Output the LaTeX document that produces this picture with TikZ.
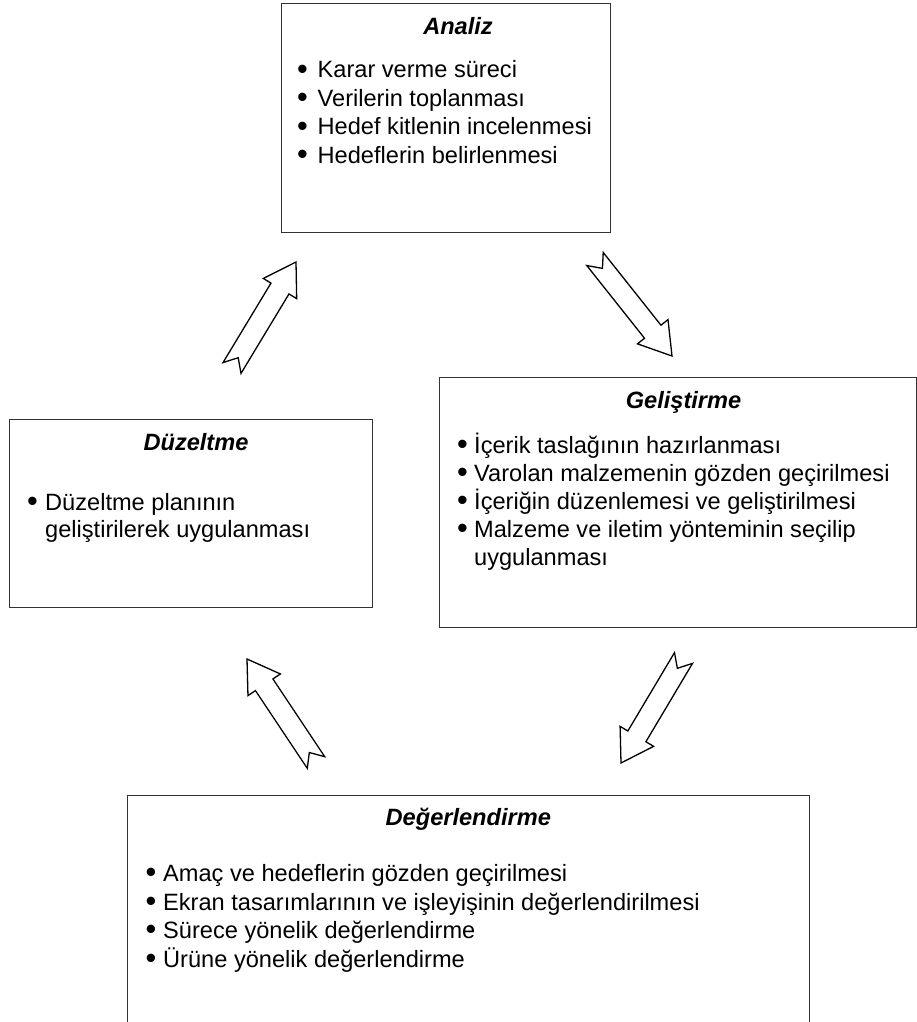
\documentclass[tikz,border=0pt]{standalone}
\usepackage{fontspec}
\setmainfont{Liberation Sans}
\usetikzlibrary{calc}

% hollow block arrow with a notched tail: #1 name prefix, #2 tail coordinate, #3 tip coordinate
\newcommand{\hollowarrow}[3]{%
  \coordinate (#1h) at ($(#3)!31pt!(#2)$);
  \coordinate (#1n) at ($(#2)!12pt!(#3)$);
  \draw[hollow] ($(#2)!10.5pt!90:(#3)$) -- ($(#1h)!10.5pt!90:(#3)$)
    -- ($(#1h)!19.5pt!90:(#3)$) -- (#3) -- ($(#1h)!19.5pt!-90:(#3)$)
    -- ($(#1h)!10.5pt!-90:(#3)$) -- ($(#2)!10.5pt!-90:(#3)$) -- (#1n) -- cycle;
}
% list bullet followed by a hanging indent of width #1
\newcommand{\bul}[1]{\makebox[#1][l]{\raisebox{-1.2pt}{\scalebox{1.3}{\textbullet}}}}

\begin{document}
\begin{tikzpicture}[x=1pt,y=-1pt,
  stagebox/.style={draw=black!80, line width=1.2pt, fill=white, rectangle, inner sep=0pt, anchor=north west},
  title/.style={anchor=base, inner sep=0pt, font=\fontsize{23.6}{28.3}\selectfont\bfseries\itshape},
  item/.style={anchor=base west, inner sep=0pt, font=\fontsize{23.6}{28.3}\selectfont},
  hollow/.style={draw=black, line width=1.3pt, fill=white, line join=miter}]
\useasboundingbox (0,0) rectangle (917,1022);
\clip (0,0) rectangle (917,1022);

% stage boxes
\node[stagebox, minimum width=329pt, minimum height=229pt] (analiz) at (281,3) {};
\node[stagebox, minimum width=363pt, minimum height=188pt] (duzeltme) at (9,419) {};
\node[stagebox, minimum width=477pt, minimum height=250pt] (gelistirme) at (439,377) {};
\node[stagebox, minimum width=682pt, minimum height=260pt] (degerlendirme) at (127,795) {};

% Analiz
\node[title] (analizT) at (458,35) {Analiz};
\node[item] (an1) at (297,78) {\bul{20.5pt}Karar verme süreci};
\node[item] (an2) at (297,106.5) {\bul{20.5pt}Verilerin toplanması};
\node[item] (an3) at (297,135) {\bul{20.5pt}Hedef kitlenin incelenmesi};
\node[item] (an4) at (297,163) {\bul{20.5pt}Hedeflerin belirlenmesi};

% Düzeltme
\node[title] (duzT) at (196,450) {Düzeltme};
\node[item] (dz1) at (27,510) {\bul{18pt}Düzeltme planının};
\node[item] (dz2) at (27,537) {\hspace*{18pt}geliştirilerek uygulanması};

% Geliştirme
\node[title] (gelT) at (683.5,408) {Geliştirme};
\node[item] (gl1) at (457,453.5) {\bul{17pt}İçerik taslağının hazırlanması};
\node[item] (gl2) at (457,481.5) {\bul{17pt}Varolan malzemenin gözden geçirilmesi};
\node[item] (gl3) at (457,509.5) {\bul{17pt}İçeriğin düzenlemesi ve geliştirilmesi};
\node[item] (gl4) at (457,537.5) {\bul{17pt}Malzeme ve iletim yönteminin seçilip};
\node[item] (gl5) at (457,565.5) {\hspace*{17pt}uygulanması};

% Değerlendirme
\node[title] (degT) at (468.3,825) {Değerlendirme};
\node[item] (dg1) at (145.5,881.5) {\bul{17.5pt}Amaç ve hedeflerin gözden geçirilmesi};
\node[item] (dg2) at (145.5,910) {\bul{17.5pt}Ekran tasarımlarının ve işleyişinin değerlendirilmesi};
\node[item] (dg3) at (145.5,938.5) {\bul{17.5pt}Sürece yönelik değerlendirme};
\node[item] (dg4) at (145.5,967) {\bul{17.5pt}Ürüne yönelik değerlendirme};

% cycle arrows
\coordinate (a1s) at (232,368);   \coordinate (a1t) at (296,262);
\coordinate (a2s) at (595,259);   \coordinate (a2t) at (672,356);
\coordinate (a3s) at (683.5,658); \coordinate (a3t) at (621,763);
\coordinate (a4s) at (316,762.5); \coordinate (a4t) at (247,659);
\hollowarrow{a1}{a1s}{a1t}
\hollowarrow{a2}{a2s}{a2t}
\hollowarrow{a3}{a3s}{a3t}
\hollowarrow{a4}{a4s}{a4t}
\end{tikzpicture}
\end{document}
